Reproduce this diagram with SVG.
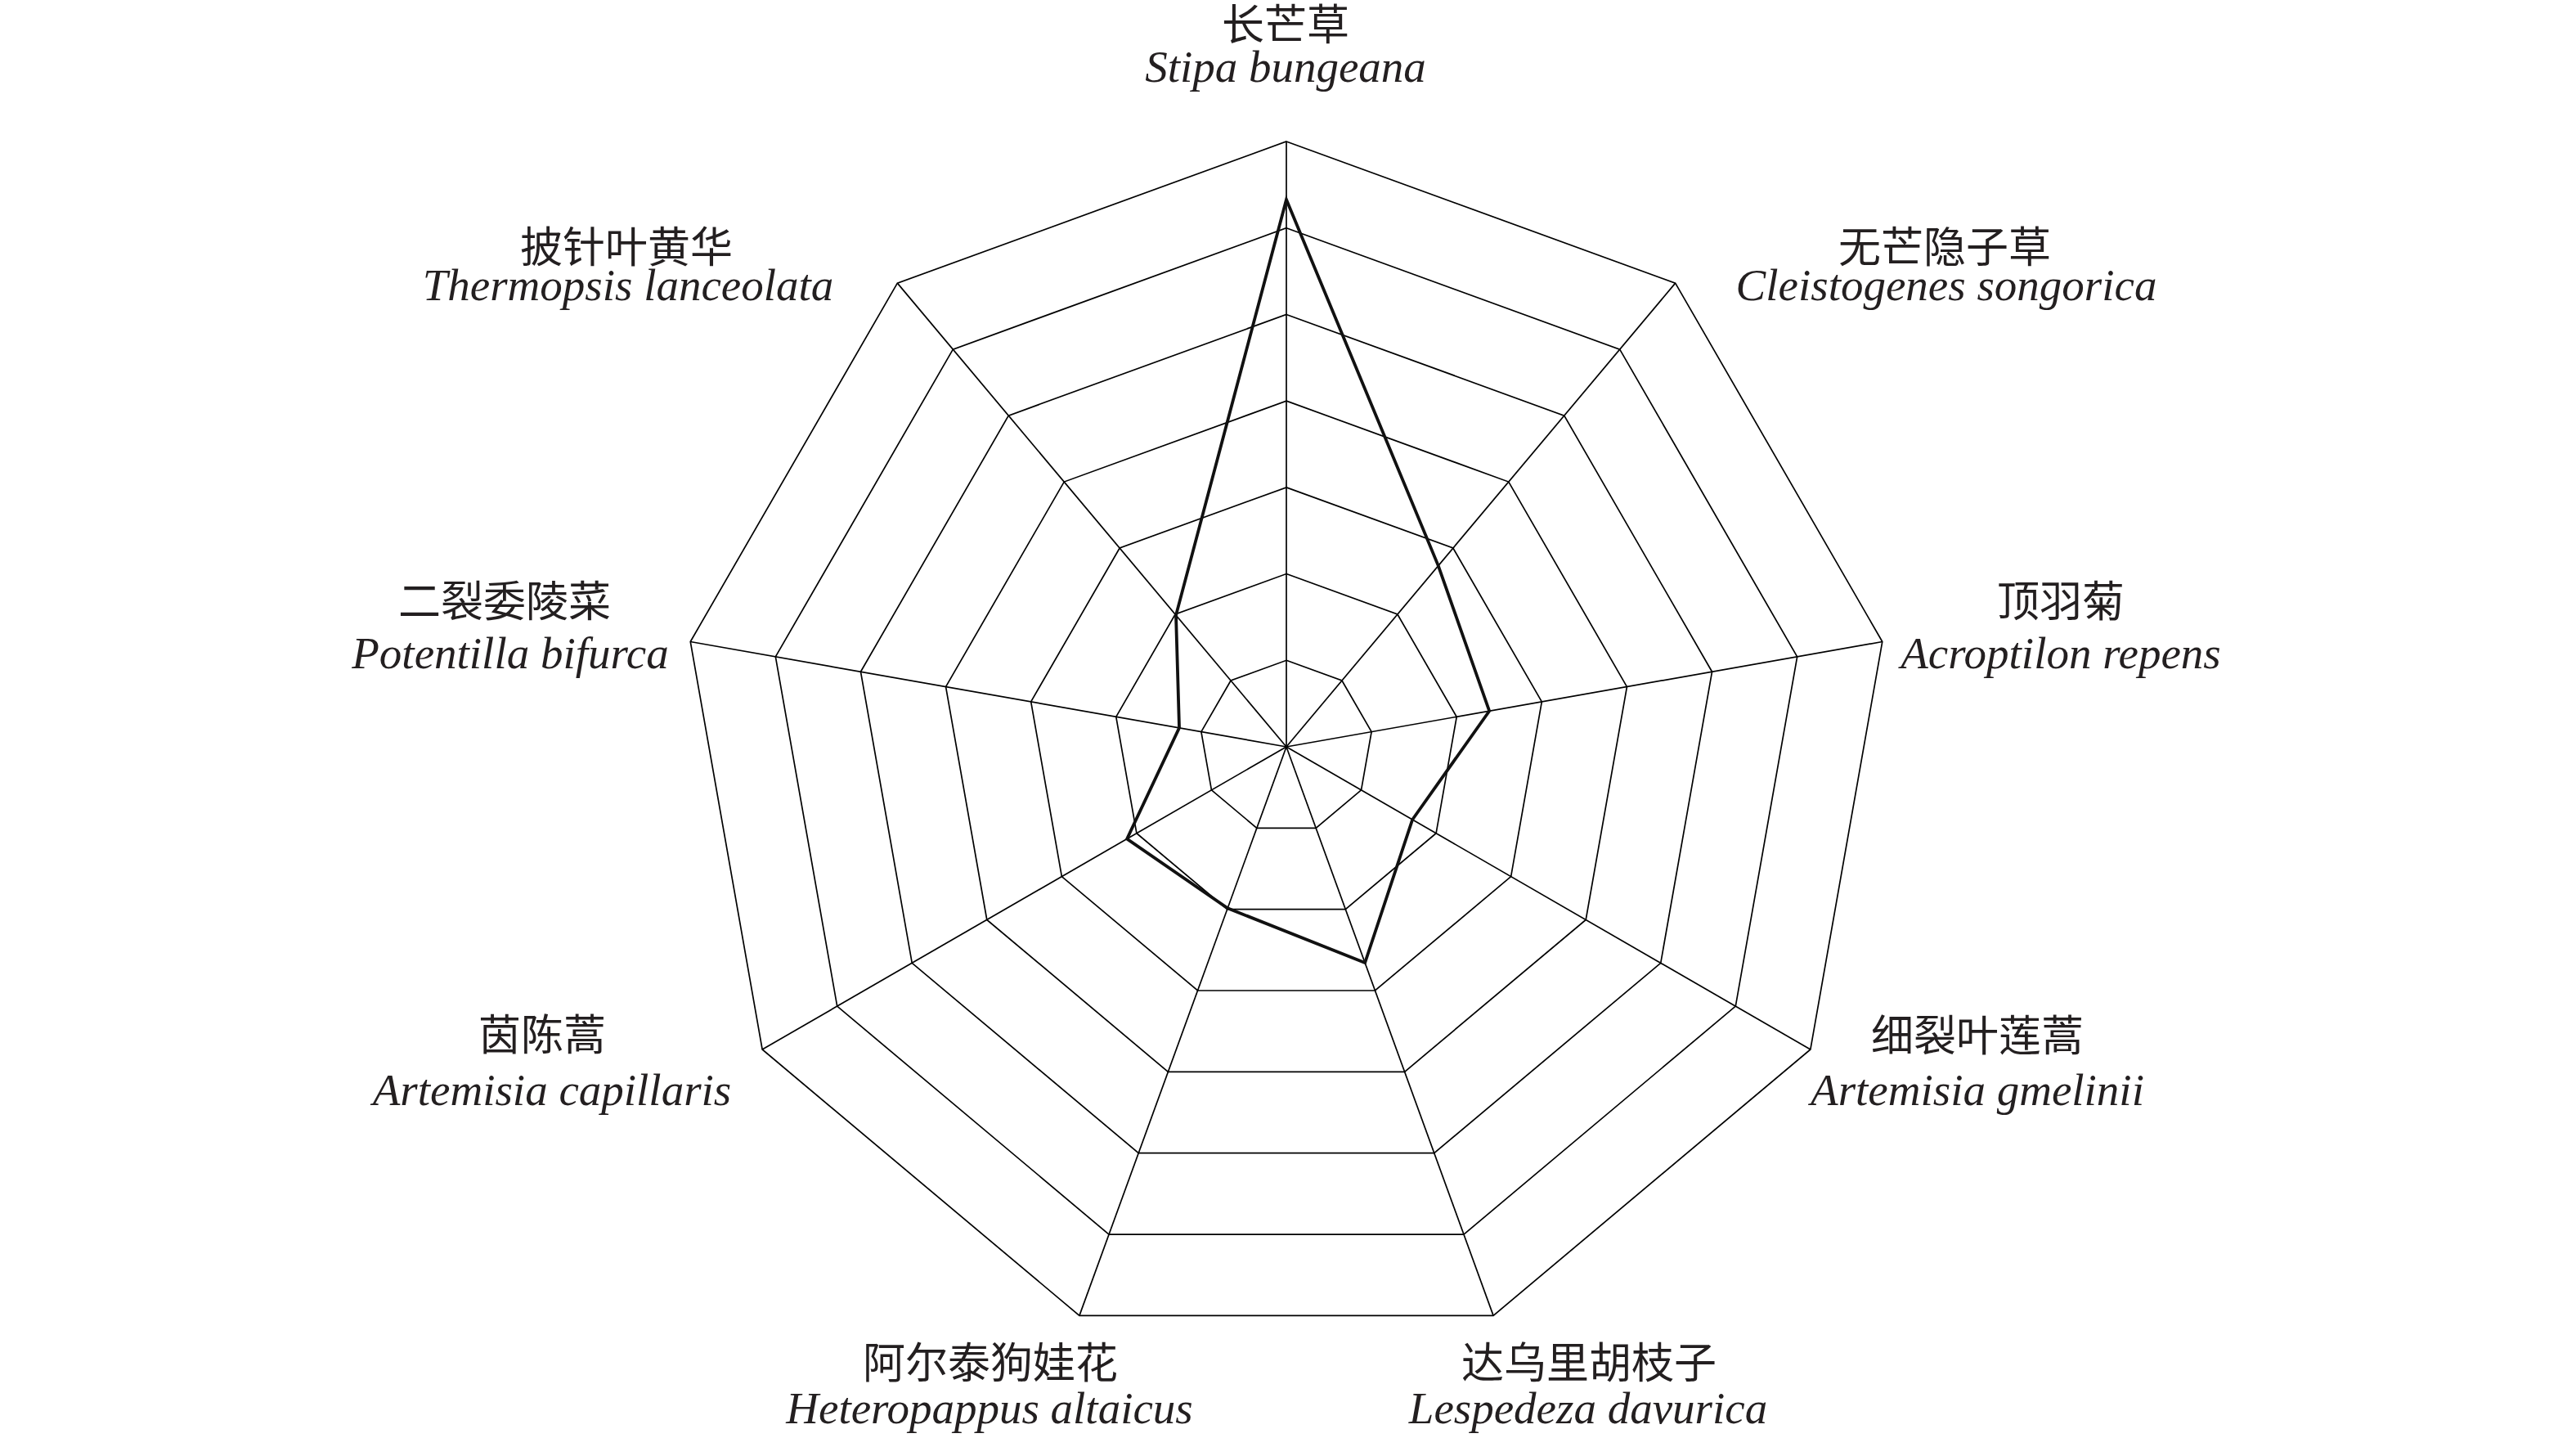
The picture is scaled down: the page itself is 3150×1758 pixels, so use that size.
<svg xmlns="http://www.w3.org/2000/svg" width="3150" height="1758" viewBox="0 0 3150 1758">
<style>
.grid{fill:none;stroke:#000000;stroke-width:1.7;stroke-linejoin:miter}
.data{fill:none;stroke:#111111;stroke-width:3.8;stroke-linejoin:miter}
.cn{font-family:"Noto Sans CJK SC","Noto Sans CJK JP",sans-serif;font-size:52px;fill:#231f20;text-anchor:middle}
.la{font-family:"Liberation Serif","Times New Roman",serif;font-style:italic;font-size:55px;fill:#231f20;text-anchor:middle}
</style>
<rect width="3150" height="1758" fill="#ffffff"/>
<g id="radar-grid" transform="translate(1573,913)">
<polygon class="grid" points="0,-105.71 67.95,-80.98 104.11,-18.36 91.55,52.86 36.16,99.34 -36.16,99.34 -91.55,52.86 -104.11,-18.36 -67.95,-80.98"/>
<polygon class="grid" points="0,-211.43 135.90,-161.97 208.22,-36.71 183.10,105.71 72.31,198.68 -72.31,198.68 -183.10,105.71 -208.22,-36.71 -135.90,-161.97"/>
<polygon class="grid" points="0,-317.14 203.85,-242.94 312.32,-55.07 274.65,158.57 108.47,298.02 -108.47,298.02 -274.65,158.57 -312.32,-55.07 -203.85,-242.94"/>
<polygon class="grid" points="0,-422.86 271.81,-323.93 416.44,-73.43 366.21,211.43 144.62,397.36 -144.62,397.36 -366.21,211.43 -416.44,-73.43 -271.81,-323.93"/>
<polygon class="grid" points="0,-528.57 339.76,-404.91 520.54,-91.79 457.76,264.29 180.78,496.70 -180.78,496.70 -457.76,264.29 -520.54,-91.79 -339.76,-404.91"/>
<polygon class="grid" points="0,-634.29 407.71,-485.89 624.65,-110.14 549.31,317.14 216.94,596.04 -216.94,596.04 -549.31,317.14 -624.65,-110.14 -407.71,-485.89"/>
<polygon class="grid" points="0,-740 475.66,-566.87 728.76,-128.50 640.86,370.00 253.09,695.37 -253.09,695.37 -640.86,370.00 -728.76,-128.50 -475.66,-566.87"/>
</g>
<g id="connectors" transform="translate(1573,913)">
<line class="grid" x1="0" y1="0" x2="0" y2="-740"/>
<line class="grid" x1="0" y1="0" x2="475.66" y2="-566.87"/>
<line class="grid" x1="0" y1="0" x2="728.76" y2="-128.50"/>
<line class="grid" x1="0" y1="0" x2="640.86" y2="370.00"/>
<line class="grid" x1="0" y1="0" x2="253.09" y2="695.37"/>
<line class="grid" x1="0" y1="0" x2="-253.09" y2="695.37"/>
<line class="grid" x1="0" y1="0" x2="-640.86" y2="370.00"/>
<line class="grid" x1="0" y1="0" x2="-728.76" y2="-128.50"/>
<line class="grid" x1="0" y1="0" x2="-475.66" y2="-566.87"/>
</g>
<g id="data-series" transform="translate(1573,913)">
<polygon class="data" points="0,-669 185.77,-221.39 248.17,-43.76 154.15,89.0 96.11,264.05 -71.82,197.34 -194.86,112.5 -130.98,-23.10 -134.99,-160.87"/>
</g>
<g id="label-stipa">
<text class="cn" x="1572" y="49">长芒草</text>
<text class="la" x="1572" y="100">Stipa bungeana</text>
</g>
<g id="label-cleistogenes">
<text class="cn" x="2378" y="321">无芒隐子草</text>
<text class="la" x="2380" y="367">Cleistogenes songorica</text>
</g>
<g id="label-acroptilon">
<text class="cn" x="2520" y="754">顶羽菊</text>
<text class="la" x="2520" y="817">Acroptilon repens</text>
</g>
<g id="label-artemisia-gmelinii">
<text class="cn" x="2418" y="1285">细裂叶莲蒿</text>
<text class="la" x="2418" y="1351">Artemisia gmelinii</text>
</g>
<g id="label-lespedeza">
<text class="cn" x="1943" y="1685">达乌里胡枝子</text>
<text class="la" x="1942" y="1740">Lespedeza davurica</text>
</g>
<g id="label-heteropappus">
<text class="cn" x="1211" y="1685">阿尔泰狗娃花</text>
<text class="la" x="1210" y="1740">Heteropappus altaicus</text>
</g>
<g id="label-artemisia-capillaris">
<text class="cn" x="663" y="1284">茵陈蒿</text>
<text class="la" x="675" y="1351">Artemisia capillaris</text>
</g>
<g id="label-potentilla">
<text class="cn" x="617" y="754">二裂委陵菜</text>
<text class="la" x="624" y="817">Potentilla bifurca</text>
</g>
<g id="label-thermopsis">
<text class="cn" x="766" y="321">披针叶黄华</text>
<text class="la" x="768" y="367">Thermopsis lanceolata</text>
</g>
</svg>
